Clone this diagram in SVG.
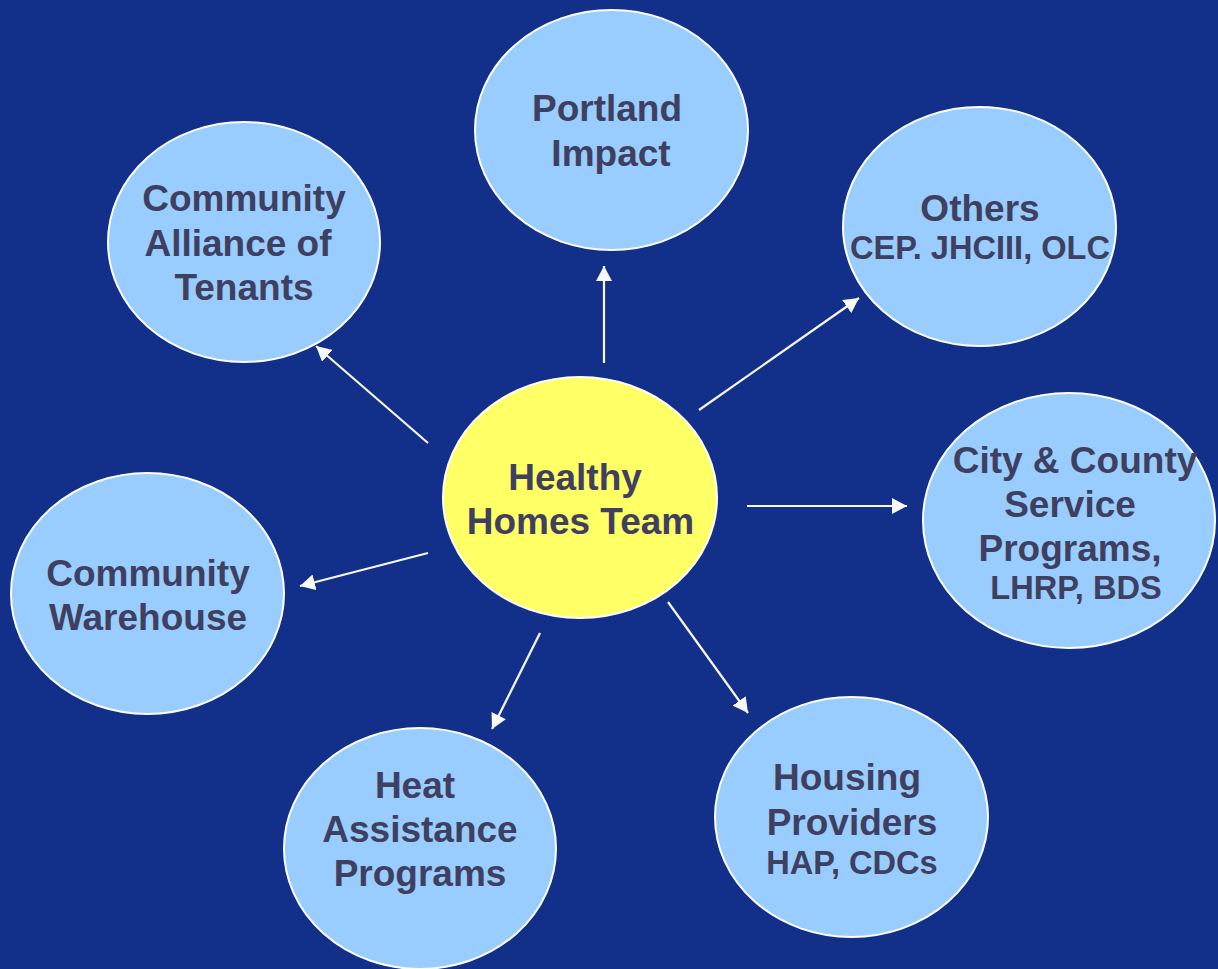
<svg xmlns="http://www.w3.org/2000/svg" width="1218" height="969" viewBox="0 0 1218 969">
<style>
.n{fill:#99CCFF;stroke:#FFFFFF;stroke-width:2}
.c{fill:#FFFF66;stroke:#FFFFFF;stroke-width:2}
.t{font-family:"Liberation Sans",Arial,sans-serif;font-weight:bold;font-size:37px;fill:#3F3F5F;text-anchor:middle}
.s{font-size:32.6px}
.e{stroke:#F8F8F8;stroke-width:2.2;fill:none;marker-end:url(#ah)}
</style>
<defs>
<marker id="ah" viewBox="0 0 15 16" refX="15" refY="8" markerWidth="15" markerHeight="16" markerUnits="userSpaceOnUse" orient="auto">
<path d="M0,0 L15,8 L0,16 z" fill="#F8F8F8"/>
</marker>
</defs>
<rect width="1218" height="969" fill="#123089"/>
<g id="connectors">
<line class="e" x1="604" y1="363" x2="604" y2="266"/>
<line class="e" x1="699" y1="410" x2="859" y2="298"/>
<line class="e" x1="747" y1="506" x2="907" y2="506"/>
<line class="e" x1="668" y1="602" x2="748" y2="713"/>
<line class="e" x1="540" y1="633" x2="492" y2="729"/>
<line class="e" x1="428" y1="553" x2="300" y2="586"/>
<line class="e" x1="428" y1="443" x2="316" y2="346"/>
</g>
<g id="portland">
<ellipse class="n" cx="611.5" cy="130" rx="136.5" ry="120"/>
<text class="t" x="607" y="121">Portland</text>
<text class="t" x="611" y="166">Impact</text>
</g>
<g id="alliance">
<ellipse class="n" cx="244" cy="242" rx="136" ry="120"/>
<text class="t" x="244" y="211">Community</text>
<text class="t" x="238" y="256">Alliance of</text>
<text class="t" x="244" y="300">Tenants</text>
</g>
<g id="others">
<ellipse class="n" cx="979.5" cy="226.5" rx="136.5" ry="119.5"/>
<text class="t" x="980" y="221">Others</text>
<text class="t s" x="980" y="259">CEP. JHCIII, OLC</text>
</g>
<g id="healthy">
<ellipse class="c" cx="580" cy="497.5" rx="137" ry="120.5"/>
<text class="t" x="575" y="490">Healthy</text>
<text class="t" x="580.5" y="534">Homes Team</text>
</g>
<g id="city">
<ellipse class="n" cx="1069" cy="520.5" rx="146" ry="127.5"/>
<text class="t" x="1075" y="473">City &amp; County</text>
<text class="t" x="1070" y="517">Service</text>
<text class="t" x="1070" y="561">Programs,</text>
<text class="t s" x="1076" y="599">LHRP, BDS</text>
</g>
<g id="warehouse">
<ellipse class="n" cx="147.5" cy="593.5" rx="136.5" ry="120.5"/>
<text class="t" x="148" y="586">Community</text>
<text class="t" x="148" y="630">Warehouse</text>
</g>
<g id="heat">
<ellipse class="n" cx="420" cy="848.5" rx="136" ry="120.5"/>
<text class="t" x="415" y="798">Heat</text>
<text class="t" x="420" y="842">Assistance</text>
<text class="t" x="420" y="886">Programs</text>
</g>
<g id="housing">
<ellipse class="n" cx="851.5" cy="817" rx="136.5" ry="120"/>
<text class="t" x="847" y="790">Housing</text>
<text class="t" x="852" y="835">Providers</text>
<text class="t s" x="852" y="874">HAP, CDCs</text>
</g>
</svg>
